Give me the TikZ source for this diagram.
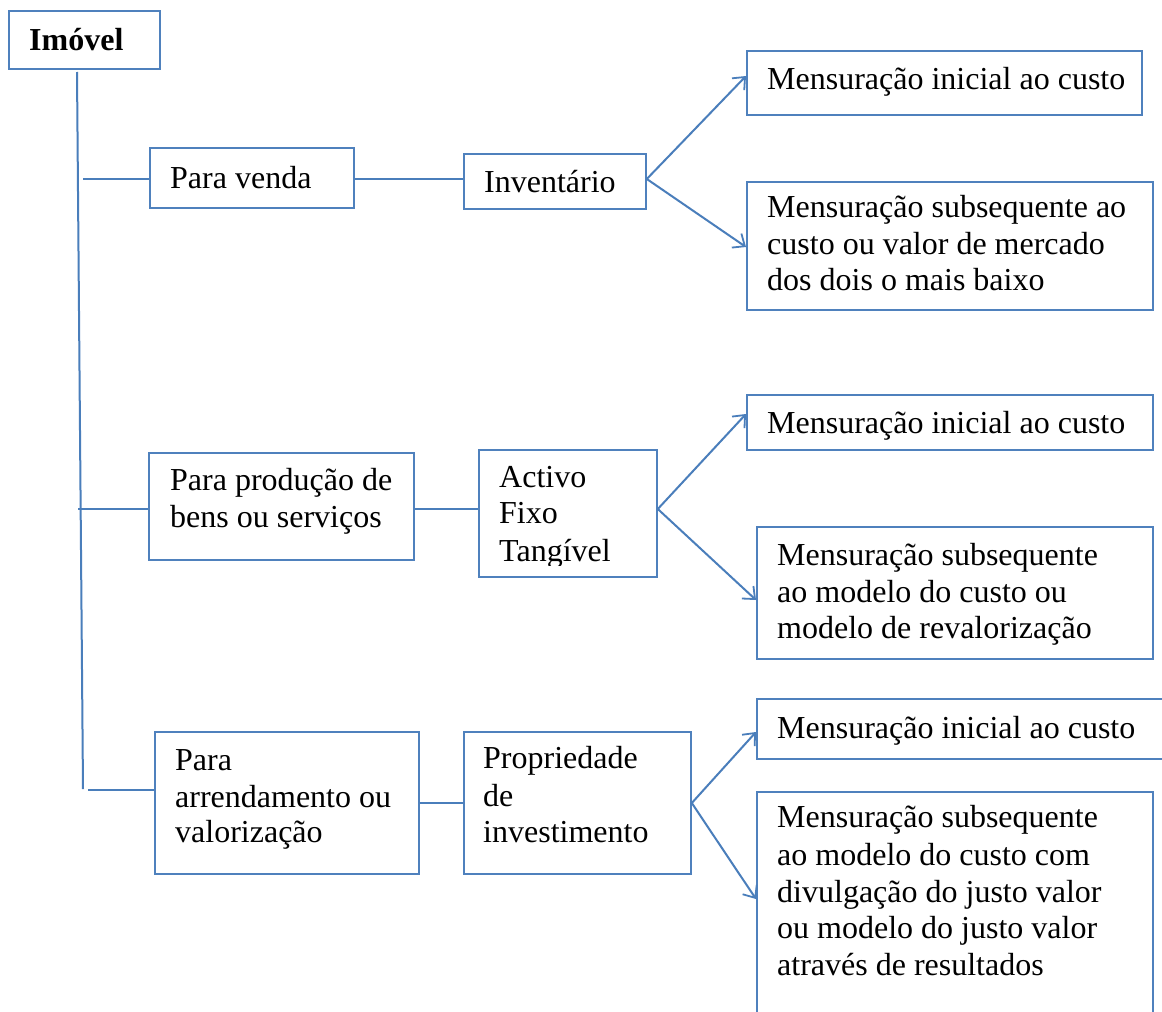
\documentclass[tikz,border=0pt]{standalone}
\usepackage{fontspec}
\setmainfont{Liberation Serif}
\usetikzlibrary{arrows.meta,calc}
\definecolor{bx}{RGB}{79,129,189}
\definecolor{ln}{RGB}{74,126,187}
\begin{document}
\begin{tikzpicture}[x=1pt,y=-1pt,
  box/.style={draw=bx,line width=1.8pt,rectangle,inner sep=0pt,anchor=north west},
  txt/.style={anchor=base west,inner sep=0pt,font=\fontsize{32}{37}\selectfont},
  conn/.style={draw=ln,line width=2pt},
  arr/.style={conn,-{Straight Barb[length=10pt,width=17pt,line width=1.8pt]}}]
\useasboundingbox (0,0) rectangle (1162,1012);
\clip (0,0) rectangle (1162,1012);
\fill[white] (0,0) rectangle (1162,1012);

% boxes
\node[box,minimum width=151pt,minimum height=58pt] (imovel) at (8,10) {};
\node[box,minimum width=204pt,minimum height=60pt] (pv) at (149,147) {};
\node[box,minimum width=182pt,minimum height=55pt] (inv) at (463,153) {};
\node[box,minimum width=395pt,minimum height=64pt] (m1a) at (746,50) {};
\node[box,minimum width=406pt,minimum height=128pt] (m1b) at (746,181) {};
\node[box,minimum width=265pt,minimum height=107pt] (pp) at (148,452) {};
\node[box,minimum width=178pt,minimum height=127pt] (af) at (478,449) {};
\node[box,minimum width=406pt,minimum height=55pt] (m2a) at (746,394) {};
\node[box,minimum width=396pt,minimum height=132pt] (m2b) at (756,526) {};
\node[box,minimum width=264pt,minimum height=142pt] (pa) at (154,731) {};
\node[box,minimum width=227pt,minimum height=142pt] (pi) at (463,731) {};
\node[box,minimum width=430pt,minimum height=60pt] (m3a) at (756,698) {};
\node[box,minimum width=396pt,minimum height=240pt] (m3b) at (756,791) {};

% texts
\node[txt,font=\fontsize{32}{37}\selectfont\bfseries] (t0) at (29,50) {Imóvel};
\node[txt] (t1) at (170,188) {Para venda};
\node[txt] (t2) at (484,192) {Inventário};
\node[txt] (t3) at (767,89) {Mensuração inicial ao custo};
\node[txt] (t4a) at (767,217) {Mensuração subsequente ao};
\node[txt] (t4b) at (767,254) {custo ou valor de mercado};
\node[txt] (t4c) at (767,290) {dos dois o mais baixo};
\node[txt] (t5a) at (170,490) {Para produção de};
\node[txt] (t5b) at (170,527) {bens ou serviços};
\node[txt] (t6a) at (499,487) {Activo};
\node[txt] (t6b) at (499,523) {Fixo};
\begin{scope}
\clip (478,449) rectangle (656,565);
\node[txt] (t6c) at (499,561) {Tangível};
\end{scope}
\node[txt] (t7) at (767,433) {Mensuração inicial ao custo};
\node[txt] (t8a) at (777,565) {Mensuração subsequente};
\node[txt] (t8b) at (777,602) {ao modelo do custo ou};
\node[txt] (t8c) at (777,638) {modelo de revalorização};
\node[txt] (t9a) at (175,770) {Para};
\node[txt] (t9b) at (175,807) {arrendamento ou};
\node[txt] (t9c) at (175,842) {valorização};
\node[txt] (t10a) at (483,768) {Propriedade};
\node[txt] (t10b) at (483,806) {de};
\node[txt] (t10c) at (483,842) {investimento};
\node[txt] (t11) at (777,738) {Mensuração inicial ao custo};
\node[txt] (t12a) at (777,827) {Mensuração subsequente};
\node[txt] (t12b) at (777,865) {ao modelo do custo com};
\node[txt] (t12c) at (777,902) {divulgação do justo valor};
\node[txt] (t12d) at (777,938) {ou modelo do justo valor};
\node[txt] (t12e) at (777,975) {através de resultados};

% trunk and branches
\coordinate (tt) at (77,72);
\coordinate (tb) at (83,789);
\draw[conn] (tt) -- (tb);
\coordinate (r1) at (83,179);
\coordinate (r2) at (78,509);
\coordinate (r3) at (88,790);
\coordinate (r3b) at (418,803);
\draw[conn] (r1) -- (r1 -| pv.west);
\draw[conn] (r1 -| pv.east) -- (r1 -| inv.west);
\draw[conn] (r2) -- (r2 -| pp.west);
\draw[conn] (r2 -| pp.east) -- (r2 -| af.west);
\draw[conn] (r3) -- (r3 -| pa.west);
\draw[conn] (r3b -| pa.east) -- (r3b -| pi.west);

% arrows
\draw[arr] (r1 -| inv.east) -- ($(m1a.north west)+(0,26)$);
\draw[arr] (r1 -| inv.east) -- ($(m1b.north west)+(0,66)$);
\draw[arr] (r2 -| af.east) -- ($(m2a.north west)+(0,20)$);
\draw[arr] (r2 -| af.east) -- ($(m2b.north west)+(0,74)$);
\draw[arr] (r3b -| pi.east) -- ($(m3a.north west)+(0,34)$);
\draw[arr] (r3b -| pi.east) -- ($(m3b.north west)+(0,108)$);
\end{tikzpicture}
\end{document}
